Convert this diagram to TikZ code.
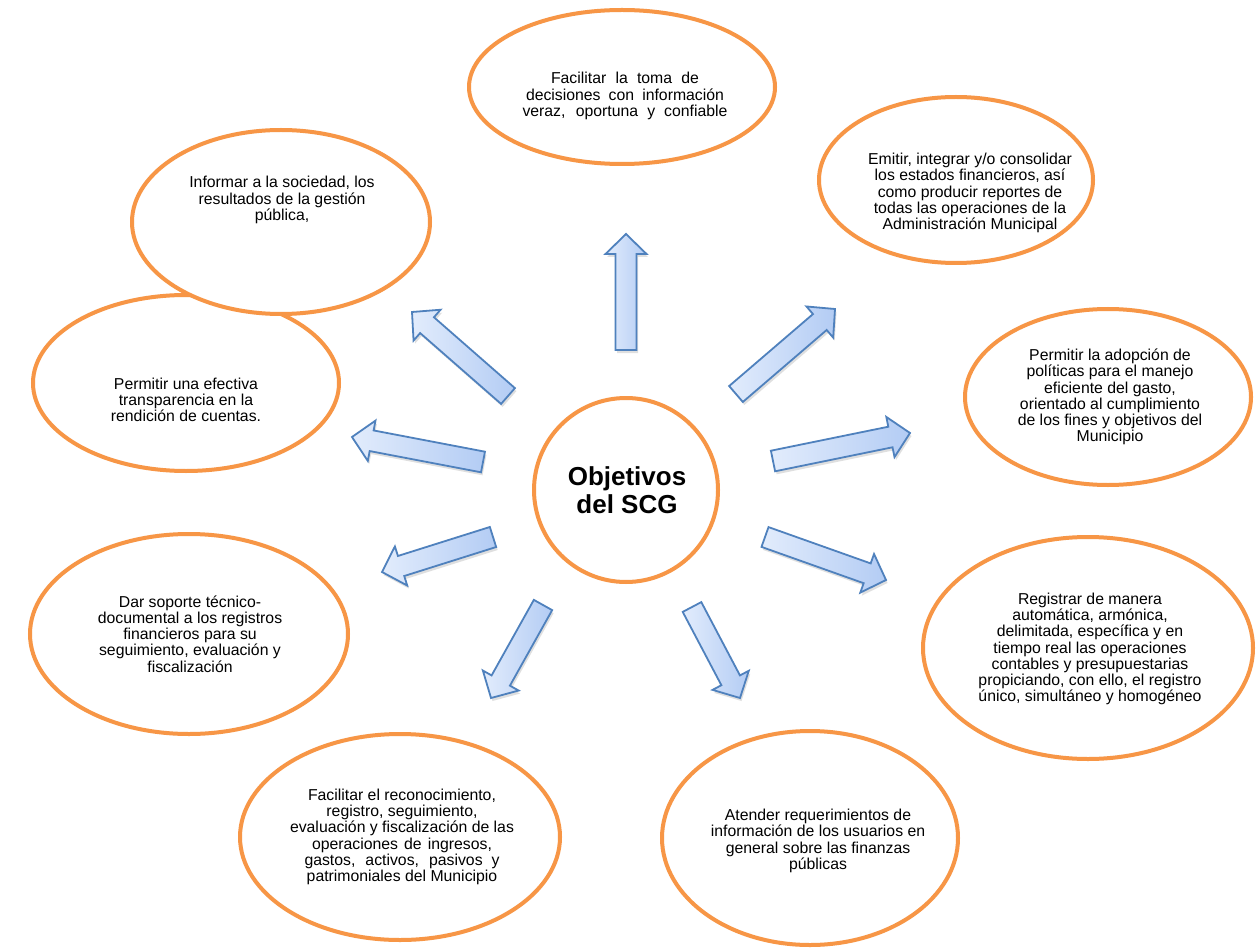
\documentclass[tikz,border=0pt]{standalone}
\usepackage{fontspec}
\setmainfont{Liberation Sans}
\usetikzlibrary{calc,shapes.geometric,shadows}
\definecolor{orng}{HTML}{F79646}
\definecolor{arrline}{HTML}{4F81BD}
\definecolor{arrlight}{HTML}{E2ECFC}
\definecolor{arrdark}{HTML}{B3CCF4}
\tikzset{
  ell/.style={ellipse, draw=orng, line width=4pt, fill=white, inner sep=0pt},
  txt/.style={align=center, font=\fontsize{15.8}{16.2}\selectfont, inner sep=0pt},
  barrowstyle/.style={draw=arrline, line width=1.8pt, line join=miter,
    left color=arrlight, right color=arrdark,
    drop shadow={opacity=0.25, shadow xshift=1.5pt, shadow yshift=-3pt}}
}
\newcommand{\blockarr}[2]{%
  \coordinate (ba-n) at ($(#2)!20pt!(#1)$);
  \draw[barrowstyle] ($(#1)!10.5pt!90:(#2)$) -- ($(ba-n)!10.5pt!90:(#2)$)
    -- ($(ba-n)!20.5pt!90:(#2)$) -- (#2) -- ($(ba-n)!20.5pt!-90:(#2)$)
    -- ($(ba-n)!10.5pt!-90:(#2)$) -- ($(#1)!10.5pt!-90:(#2)$) -- cycle;
}
\begin{document}
\begin{tikzpicture}[x=1pt,y=-1pt]
\useasboundingbox (0,0) rectangle (1257,949);
\fill[white] (0,0) rectangle (1257,949);

% ellipses
\node[ell, minimum width=306pt, minimum height=154pt] (e1) at (622,87) {};
\node[ell, minimum width=274pt, minimum height=166pt] (e2) at (956,180) {};
\node[ell, minimum width=286pt, minimum height=176pt] (e3) at (1108,397) {};
\node[ell, minimum width=330pt, minimum height=222pt] (e4) at (1088,648) {};
\node[ell, minimum width=296pt, minimum height=214pt] (e5) at (810,838) {};
\node[ell, minimum width=320pt, minimum height=206pt] (e6) at (400,837) {};
\node[ell, minimum width=318pt, minimum height=200pt] (e7) at (189,634) {};
\node[ell, minimum width=306pt, minimum height=176pt] (e8) at (186,383) {};
\node[ell, minimum width=298pt, minimum height=184pt] (e9) at (281,222) {};
\node[ell, minimum width=184pt, minimum height=184pt] (c) at (626,490) {};

% texts
\node[txt] (t1) at (625,96) {\makebox[148pt][s]{Facilitar la toma de}\\\makebox[198pt][s]{decisiones con información}\\\makebox[205pt][s]{veraz, oportuna y confiable}};
\node[txt] (t2) at (970,193) {Emitir, integrar y/o consolidar\\los estados financieros, así\\como producir reportes de\\todas las operaciones de la\\Administración Municipal};
\node[txt] (t3) at (1110,397) {Permitir la adopción de\\políticas para el manejo\\eficiente del gasto,\\orientado al cumplimiento\\de los fines y objetivos del\\Municipio};
\node[txt] (t4) at (1090,649) {Registrar de manera\\automática, armónica,\\delimitada, específica y en\\tiempo real las operaciones\\contables y presupuestarias\\propiciando, con ello, el registro\\único, simultáneo y homogéneo};
\node[txt] (t5) at (818,841) {Atender requerimientos de\\información de los usuarios en\\general sobre las finanzas\\públicas};
\node[txt] (t6) at (402,837) {Facilitar el reconocimiento,\\registro, seguimiento,\\evaluación y fiscalización de las\\\makebox[180pt][s]{operaciones de ingresos,}\\\makebox[195pt][s]{gastos, activos, pasivos y}\\patrimoniales del Municipio};
\node[txt] (t7) at (190,634) {Dar soporte técnico-\\documental a los registros\\financieros para su\\seguimiento, evaluación y\\fiscalización};
\node[txt] (t8) at (186,400) {Permitir una efectiva\\transparencia en la\\rendición de cuentas.};
\node[txt] (t9) at (282,200) {Informar a la sociedad, los\\resultados de la gestión\\pública,};
\node[align=center, inner sep=0pt, font=\bfseries\fontsize{26}{28}\selectfont] (ct) at (627,490) {Objetivos\\del SCG};

% arrow end points
\coordinate (a1s) at (626,350); \coordinate (a1e) at (626,234);
\coordinate (a2s) at (736,394); \coordinate (a2e) at (835,309);
\coordinate (a3s) at (773,461); \coordinate (a3e) at (910,433);
\coordinate (a4s) at (765,537); \coordinate (a4e) at (886,580);
\coordinate (a5s) at (692,607); \coordinate (a5e) at (740,698);
\coordinate (a6s) at (543,605); \coordinate (a6e) at (491,698);
\coordinate (a7s) at (493,537); \coordinate (a7e) at (382,572);
\coordinate (a8s) at (483,462); \coordinate (a8e) at (352,437);
\coordinate (a9s) at (508,396); \coordinate (a9e) at (412,312);

\blockarr{a1s}{a1e}
\blockarr{a2s}{a2e}
\blockarr{a3s}{a3e}
\blockarr{a4s}{a4e}
\blockarr{a5s}{a5e}
\blockarr{a6s}{a6e}
\blockarr{a7s}{a7e}
\blockarr{a8s}{a8e}
\blockarr{a9s}{a9e}
\end{tikzpicture}
\end{document}
